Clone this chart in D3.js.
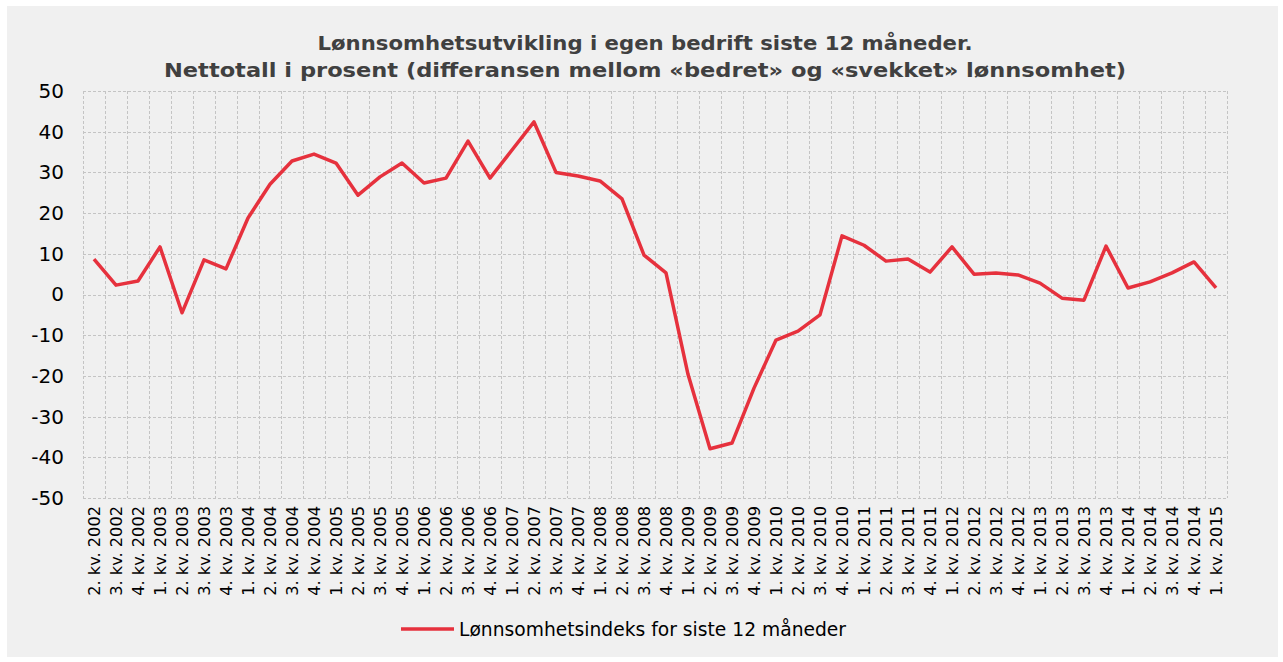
<!DOCTYPE html>
<html>
<head>
  <meta charset="UTF-8">
  <title>Lønnsomhetsutvikling</title>
  <script src="https://d3js.org/d3.v7.min.js"></script>
  <style>
    body { margin: 0; background: #fff; }
    svg { display: block; font-family: "DejaVu Sans", Verdana, sans-serif; }
  </style>
</head>
<body>
<div class="chart"></div>
<script>
  // quarters 2. kv. 2002 .. 1. kv. 2015
  var quarters = ['2. kv. 2002','3. kv. 2002','4. kv. 2002',
    '1. kv. 2003','2. kv. 2003','3. kv. 2003','4. kv. 2003',
    '1. kv. 2004','2. kv. 2004','3. kv. 2004','4. kv. 2004',
    '1. kv. 2005','2. kv. 2005','3. kv. 2005','4. kv. 2005',
    '1. kv. 2006','2. kv. 2006','3. kv. 2006','4. kv. 2006',
    '1. kv. 2007','2. kv. 2007','3. kv. 2007','4. kv. 2007',
    '1. kv. 2008','2. kv. 2008','3. kv. 2008','4. kv. 2008',
    '1. kv. 2009','2. kv. 2009','3. kv. 2009','4. kv. 2009',
    '1. kv. 2010','2. kv. 2010','3. kv. 2010','4. kv. 2010',
    '1. kv. 2011','2. kv. 2011','3. kv. 2011','4. kv. 2011',
    '1. kv. 2012','2. kv. 2012','3. kv. 2012','4. kv. 2012',
    '1. kv. 2013','2. kv. 2013','3. kv. 2013','4. kv. 2013',
    '1. kv. 2014','2. kv. 2014','3. kv. 2014','4. kv. 2014',
    '1. kv. 2015'];

  var indexValues = [8.7, 2.3, 3.3,
    11.7, -4.5, 8.5, 6.3,
    18.8, 27.1, 32.8, 34.5,
    32.3, 24.4, 28.9, 32.3,
    27.4, 28.6, 37.7, 28.6,
    35.5, 42.4, 30.0, 29.1,
    27.9, 23.5, 9.7, 5.3,
    -19.6, -37.9, -36.5, -23.0,
    -11.2, -9.0, -5.0, 14.4,
    12.1, 8.2, 8.7, 5.5,
    11.7, 5.0, 5.3, 4.8,
    2.8, -0.9, -1.4, 11.9,
    1.6, 3.1, 5.3, 8.0,
    1.6];

  var yTicks = [50, 40, 30, 20, 10, 0, -10, -20, -30, -40, -50];
  var seriesName = 'Lønnsomhetsindeks for siste 12 måneder';
  var titleLines = ['Lønnsomhetsutvikling i egen bedrift siste 12 måneder.',
    'Nettotall i prosent (differansen mellom «bedret» og «svekket» lønnsomhet)'];

  var W = 1283, H = 662;
  var margin = { top: 91, right: 56, bottom: 164, left: 83 };
  var width = W - margin.left - margin.right;
  var height = H - margin.top - margin.bottom;

  var svg = d3.select('.chart')
    .append('svg')
      .attr('width', W)
      .attr('height', H);

  svg.append('rect')
    .attr('x', 7).attr('y', 6)
    .attr('width', 1271).attr('height', 651)
    .attr('fill', '#f0f0f0');

  var titleWidths = [655, 962]; // stretch DejaVu to Verdana widths
  svg.selectAll('.title')
    .data(titleLines)
    .enter()
    .append('text')
      .attr('class', 'title')
      .attr('x', 645)
      .attr('y', (d, i) => 50 + i * 27)
      .attr('text-anchor', 'middle')
      .attr('textLength', (d, i) => titleWidths[i])
      .attr('lengthAdjust', 'spacingAndGlyphs')
      .style('font-size', '20px')
      .style('font-weight', 'bold')
      .style('fill', '#404040')
      .text(d => d);

  var g = svg.append('g')
    .attr('transform', `translate(${margin.left}, ${margin.top})`);

  var xScale = d3.scaleBand()
    .domain(quarters)
    .range([0, width]);

  var yScale = d3.scaleLinear()
    .domain([-50, 50])
    .range([height, 0]);

  // grid
  var grid = g.append('g')
    .attr('stroke', '#c4c4c4')
    .attr('stroke-width', 1)
    .attr('stroke-dasharray', '3,2')
    .attr('shape-rendering', 'crispEdges');

  grid.selectAll('.hgrid')
    .data(yTicks)
    .enter()
    .append('line')
      .attr('x1', 0).attr('x2', width)
      .attr('y1', d => Math.round(yScale(d)) + 0.5)
      .attr('y2', d => Math.round(yScale(d)) + 0.5);

  var bounds = quarters.map(q => xScale(q)).concat([width]);
  grid.selectAll('.vgrid')
    .data(bounds)
    .enter()
    .append('line')
      .attr('x1', d => Math.round(d) + 0.5).attr('x2', d => Math.round(d) + 0.5)
      .attr('y1', 0).attr('y2', height);

  // y axis
  var yAxis = g.append('g')
    .call(d3.axisLeft(yScale).tickValues(yTicks).tickSize(0).tickPadding(19)
      .tickFormat(d => String(d)));
  yAxis.select('.domain').remove();
  yAxis.selectAll('text')
    .style('font-size', '20px')
    .style('font-family', '"DejaVu Sans", Verdana, sans-serif')
    .style('fill', '#000');

  // x axis
  var xAxis = g.append('g')
    .attr('transform', `translate(0, ${height})`)
    .call(d3.axisBottom(xScale).tickSize(0));
  xAxis.select('.domain').remove();
  xAxis.selectAll('text')
    .attr('transform', 'rotate(-90)')
    .attr('x', -8)
    .attr('y', 0)
    .attr('dy', '0.35em')
    .attr('text-anchor', 'end')
    .style('font-size', '16.2px')
    .style('font-family', '"DejaVu Sans", Verdana, sans-serif')
    .style('fill', '#000');

  // line
  var line = d3.line()
    .x((d, i) => xScale(quarters[i]) + xScale.bandwidth() / 2)
    .y(d => yScale(d));

  g.append('path')
    .datum(indexValues)
    .attr('d', line)
    .attr('fill', 'none')
    .attr('stroke', '#e6313d')
    .attr('stroke-width', 3.5)
    .attr('stroke-linejoin', 'round');

  // legend
  var legend = svg.append('g')
    .attr('transform', 'translate(401, 629)');
  legend.append('line')
    .attr('x1', 0).attr('x2', 53)
    .attr('stroke', '#e6313d')
    .attr('stroke-width', 3.5);
  legend.append('text')
    .attr('x', 58)
    .attr('dy', '0.35em')
    .style('font-size', '18.7px')
    .style('fill', '#000')
    .text(seriesName);
</script>
</body>
</html>
